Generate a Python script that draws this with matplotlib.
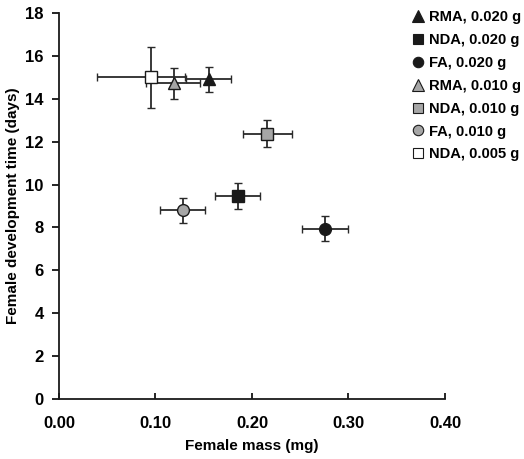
import matplotlib
matplotlib.use("Agg")
import matplotlib.pyplot as plt
import numpy as np

plt.rcParams['font.family'] = ['Liberation Sans', 'DejaVu Sans']
plt.rcParams['font.weight'] = 'bold'

labels = ["RMA, 0.020 g", "NDA, 0.020 g", "FA, 0.020 g",
          "RMA, 0.010 g", "NDA, 0.010 g", "FA, 0.010 g", "NDA, 0.005 g"]
mass = [0.155, 0.185, 0.276, 0.119, 0.216, 0.128, 0.095]
mass_err_lo = [0.023, 0.023, 0.024, 0.029, 0.025, 0.023, 0.056]
mass_err_hi = [0.023, 0.023, 0.024, 0.027, 0.025, 0.023, 0.036]
dev_time = [14.9, 9.45, 7.95, 14.72, 12.38, 8.8, 15.0]
dev_err = [0.58, 0.6, 0.58, 0.72, 0.65, 0.58, 1.43]
markers = ['^', 's', 'o', '^', 's', 'o', 's']
faces = ['#1a1a1a', '#1a1a1a', '#1a1a1a', '#a6a6a6', '#a6a6a6', '#a6a6a6', '#ffffff']

fig = plt.figure(figsize=(5.24, 4.59), dpi=100)
ax = fig.add_axes([0.1126, 0.1307, 0.7366, 0.841])

for i in range(len(labels)):
    ax.errorbar(mass[i], dev_time[i],
                xerr=[[mass_err_lo[i]], [mass_err_hi[i]]], yerr=dev_err[i],
                fmt=markers[i], mfc=faces[i], mec='#1a1a1a', mew=1.0,
                ms=9 if markers[i] == '^' else 8.5, ecolor='#2a2a2a', elinewidth=1.3,
                capsize=3, capthick=1.3, label=labels[i], zorder=3 + (i == 6))

ax.set_xlim(0, 0.40)
ax.set_ylim(0, 18)
ax.set_xticks(np.arange(0, 0.41, 0.10))
ax.set_xticklabels(["0.00", "0.10", "0.20", "0.30", "0.40"])
ax.set_yticks(np.arange(0, 19, 2))
for s in ['top', 'right']:
    ax.spines[s].set_visible(False)
for s in ['left', 'bottom']:
    ax.spines[s].set_linewidth(1.3)
    ax.spines[s].set_color('#1a1a1a')
ax.tick_params(axis='x', direction='in', length=4, width=1.2, labelsize=12, pad=12)
ax.tick_params(axis='y', direction='out', length=5, width=1.2, labelsize=12, pad=6)
ax.set_xlabel("Female mass (mg)", fontsize=11, fontweight='bold', labelpad=6)
ax.set_ylabel("Female development time (days)", fontsize=11, fontweight='bold', labelpad=4)

handles = [plt.Line2D([], [], ls='none', marker=markers[i], mfc=faces[i], mec='#1a1a1a',
                      mew=0.8, ms=8 if markers[i] == '^' else 7.5) for i in range(len(labels))]
leg = fig.legend(handles, labels, loc='upper left', bbox_to_anchor=(0.776, 0.99),
                 frameon=False, fontsize=10.6, handlelength=0.8, handletextpad=0.3,
                 labelspacing=0.6, borderaxespad=0)
for t in leg.get_texts():
    t.set_fontweight('bold')

fig.savefig("out.png", dpi=100)
